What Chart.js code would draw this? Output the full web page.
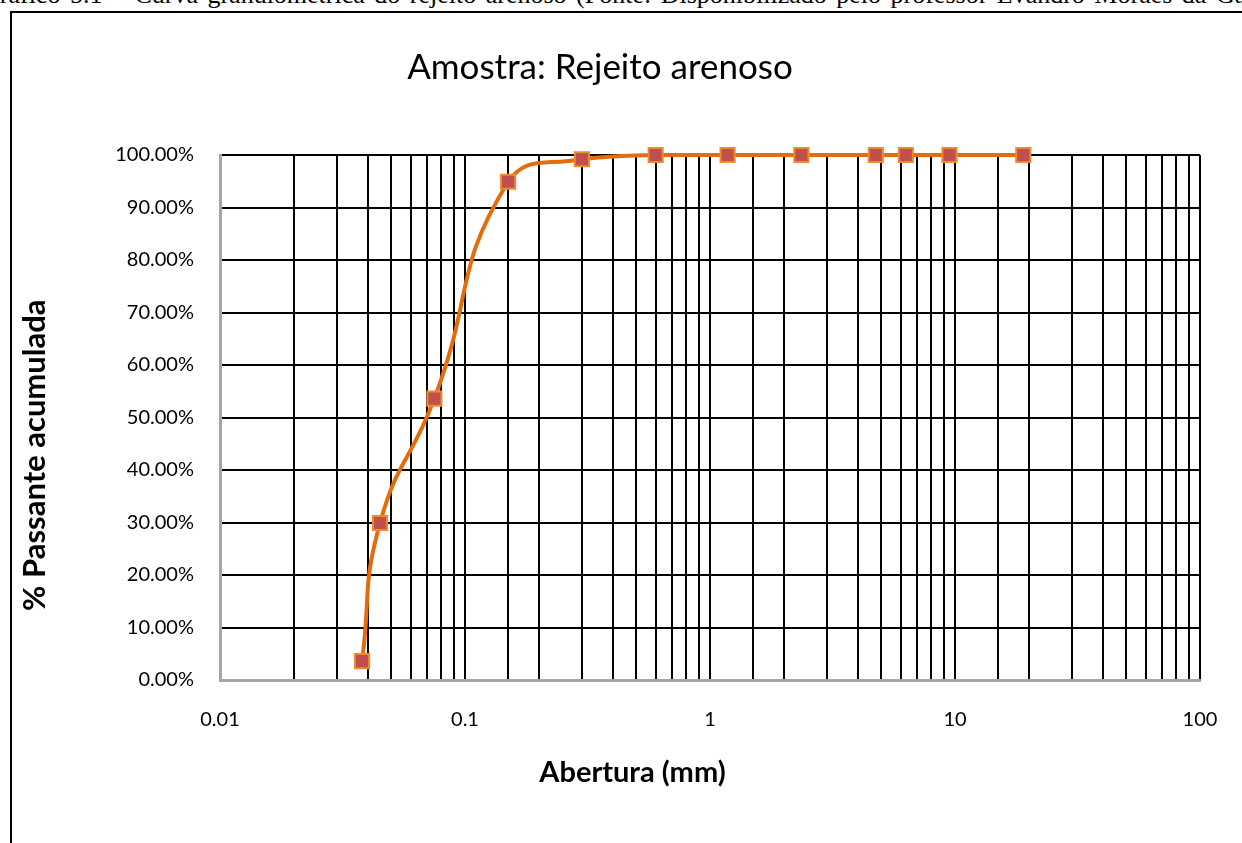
<!DOCTYPE html>
<html>
<head>
<meta charset="utf-8">
<script src="https://cdn.jsdelivr.net/npm/chart.js@4.4.1/dist/chart.umd.min.js"></script>
<style>
    html, body { margin: 0; padding: 0; background: #fff; overflow: hidden; }
    #caption {
        position: absolute; left: -19px; top: -20px; white-space: nowrap;
        font-family: "Liberation Serif", serif; font-size: 26px; color: #000;
        word-spacing: 3px;
    }
    #frame {
        position: absolute; left: 10px; top: 11px; width: 1240px; height: 840px;
        border-left: 2px solid #000; border-top: 2px solid #000;
    }
    #wrap { position: absolute; left: 0; top: 0; width: 1242px; height: 843px; }
</style>
</head>
<body>
<div id="caption">Gráfico 5.1 – Curva granulométrica do rejeito arenoso (Fonte: Disponibilizado pelo professor Evandro Moraes da Gama)</div>
<div id="frame"></div>
<div id="wrap"><canvas id="granChart"></canvas></div>
<script>
    // Abertura das peneiras (mm) e % passante acumulada
    const aberturas = [0.038, 0.045, 0.075, 0.15, 0.3, 0.6, 1.18, 2.36, 4.75, 6.3, 9.5, 19];
    const passante = [3.6, 29.9, 53.6, 94.9, 99.2, 100, 100, 100, 100, 100, 100, 100];
    const xTickLabels = [0.01, 0.1, 1, 10, 100];
    const yTicks = [0, 10, 20, 30, 40, 50, 60, 70, 80, 90, 100];

    const fontFamily = 'Lato, "Open Sans", sans-serif';
    const points = aberturas.map((x, i) => ({ x: x, y: passante[i] }));

    // titulos dos eixos ficam fora do centro no original: espacos no fim empurram o texto
    const pad = n => '\u00a0'.repeat(n);

    const ctx = document.getElementById('granChart').getContext('2d');
    const granChart = new Chart(ctx, {
        type: 'line',
        data: {
            datasets: [{
                label: 'Rejeito arenoso',
                data: points,
                borderColor: '#e46c0a',
                borderWidth: 4,
                tension: 0.5,
                pointStyle: 'rect',
                pointRadius: 10,
                pointHoverRadius: 10,
                pointBackgroundColor: '#c0504d',
                pointBorderColor: '#f08a2c',
                pointBorderWidth: 2,
                clip: false
            }]
        },
        options: {
            responsive: true,
            maintainAspectRatio: false,
            animation: false,
            layout: { padding: { left: 0, right: 42, top: 0, bottom: 53 } },
            plugins: {
                legend: { display: false },
                tooltip: { enabled: false },
                title: {
                    display: true,
                    text: 'Amostra: Rejeito arenoso',
                    color: '#000',
                    font: { family: fontFamily, size: 35, weight: 'normal' },
                    padding: { top: 47, bottom: 66 }
                }
            },
            scales: {
                x: {
                    type: 'logarithmic',
                    min: 0.01,
                    max: 100,
                    afterFit: function (s) {
                        s.height = 110;
                        s.paddingLeft = 0;
                        s.paddingRight = 0;
                    },
                    grid: { color: '#000', lineWidth: 2, drawTicks: false },
                    border: { color: '#a6a6a6', width: 3 },
                    ticks: {
                        autoSkip: false,
                        maxRotation: 0,
                        padding: 28,
                        color: '#000',
                        font: { family: fontFamily, size: 20 },
                        callback: function (v) {
                            return xTickLabels.includes(v) ? String(v) : '';
                        }
                    },
                    title: {
                        display: true,
                        text: 'Abertura (mm)' + pad(22),
                        color: '#000',
                        font: { family: fontFamily, size: 29, weight: 'bold' },
                        padding: { top: 0, bottom: 0 }
                    }
                },
                y: {
                    min: 0,
                    max: 100,
                    afterBuildTicks: function (s) {
                        s.ticks = yTicks.map(v => ({ value: v }));
                    },
                    afterFit: function (s) { s.width = 220; },
                    grid: { color: '#000', lineWidth: 2, drawTicks: false },
                    border: { color: '#a6a6a6', width: 3 },
                    ticks: {
                        padding: 26,
                        color: '#000',
                        font: { family: fontFamily, size: 20 },
                        callback: function (v) { return v.toFixed(2) + '%'; }
                    },
                    title: {
                        display: true,
                        text: '% Passante acumulada' + pad(10),
                        color: '#000',
                        font: { family: fontFamily, size: 31, weight: 'bold' },
                        padding: { top: 16, bottom: 0 }
                    }
                }
            }
        }
    });
</script>
</body>
</html>
